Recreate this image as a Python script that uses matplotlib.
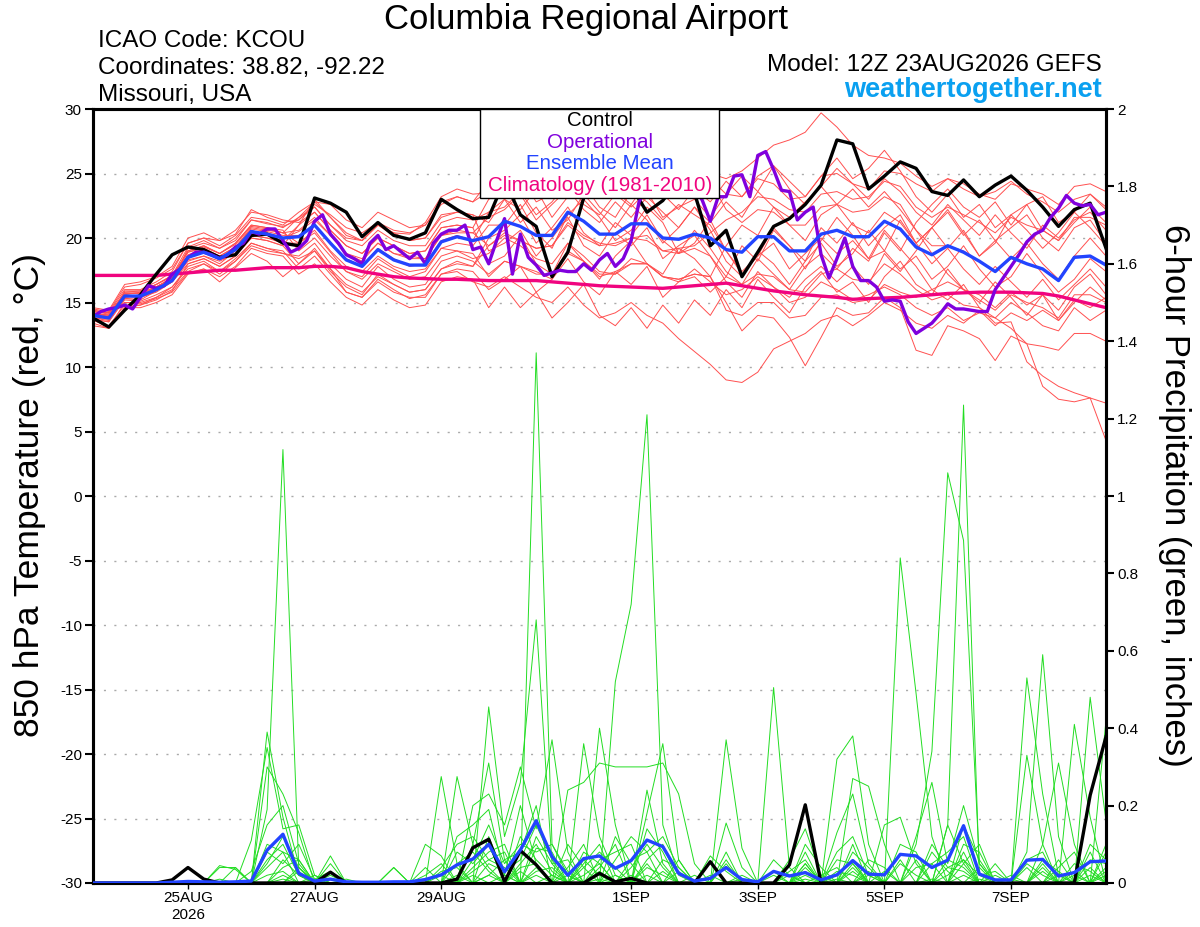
import numpy as np
import matplotlib
matplotlib.use("Agg")
import matplotlib.pyplot as plt
from matplotlib.patches import Rectangle

plt.rcParams['font.family'] = ['Liberation Sans', 'DejaVu Sans']
plt.rcParams['axes.unicode_minus'] = False

# forecast hours after 12Z 23AUG2026 (6-hourly members, 3-hourly operational)
hours = np.arange(0, 385, 6)
hours_op = np.arange(0, 385, 3)

tick_hours = [36, 84, 132, 204, 252, 300, 348]
tick_labels = ["25AUG\n2026", "27AUG", "29AUG", "1SEP", "3SEP", "5SEP", "7SEP"]
precip_ticks = [0, 0.2, 0.4, 0.6, 0.8, 1, 1.2, 1.4, 1.6, 1.8, 2]
precip_tick_labels = ["0", "0.2", "0.4", "0.6", "0.8", "1", "1.2", "1.4", "1.6", "1.8", "2"]

# 850 hPa temperature (C)
control_temp = [13.8, 13.1, 14.4, 15.6, 17.2, 18.7, 19.3, 19.1, 18.5, 18.7, 20.2, 20.3, 19.6,
                19.4, 23.1, 22.7, 22.0, 20.1, 21.2, 20.2, 19.9, 20.4, 23.0, 22.2, 21.5, 21.6,
                24.5, 21.8, 20.9, 17.0, 18.9, 23.1, 24.5, 25.0, 24.0, 22.0, 22.9, 24.5, 23.5,
                19.4, 20.6, 17.0, 18.9, 20.9, 21.5, 22.6, 24.1, 27.6, 27.3, 23.8, 24.8, 25.9,
                25.4, 23.6, 23.3, 24.5, 23.2, 24.1, 24.8, 23.7, 22.4, 20.9, 22.2, 22.7, 19.2]

oper_temp = [13.9, 14.3, 14.5, 14.6, 14.8, 14.5, 15.4, 16.3, 16.1, 16.3, 17.2, 17.6, 18.5,
             18.9, 18.9, 18.7, 18.4, 18.7, 19.3, 19.6, 20.5, 20.3, 20.7, 20.7, 19.8, 18.9,
             19.2, 19.8, 21.3, 21.8, 20.3, 19.6, 18.7, 18.4, 18.0, 19.6, 20.2, 19.1, 19.4,
             18.9, 18.4, 18.9, 18.0, 19.6, 20.3, 20.6, 20.6, 21.0, 19.1, 19.3, 18.0, 19.8,
             21.5, 17.2, 20.3, 18.5, 17.9, 17.1, 17.3, 17.5, 17.4, 17.4, 18.0, 17.5, 18.3,
             18.8, 17.8, 18.4, 19.8, 22.8, 24.0, 24.5, 25.0, 24.5, 24.0, 24.5, 24.0, 22.9,
             21.3, 23.2, 23.2, 24.8, 24.9, 23.2, 26.4, 26.7, 25.3, 23.7, 23.6, 21.4, 22.0,
             22.4, 18.7, 16.9, 18.4, 20.0, 17.8, 16.7, 16.7, 16.2, 15.1, 15.2, 15.1, 13.5,
             12.6, 13.0, 13.4, 14.1, 14.9, 14.5, 14.5, 14.4, 14.3, 14.3, 16.0, 16.9, 17.8,
             18.7, 19.7, 20.3, 20.6, 21.6, 22.3, 23.3, 22.7, 22.5, 22.6, 21.8, 22.0]

mean_temp = [14.0, 13.8, 15.5, 15.5, 16.0, 16.7, 18.5, 18.9, 18.4, 19.1, 20.5, 20.3, 20.0,
             20.1, 21.0, 19.6, 18.3, 17.8, 19.1, 18.3, 17.9, 17.9, 19.7, 20.1, 19.8, 20.1,
             21.3, 20.9, 20.2, 20.2, 22.0, 21.3, 20.3, 20.3, 21.1, 21.1, 20.0, 19.9, 20.3,
             20.0, 19.1, 18.9, 20.1, 20.1, 19.0, 19.0, 20.3, 20.6, 20.1, 20.1, 21.3, 20.7,
             19.3, 18.7, 19.4, 18.9, 18.2, 17.4, 18.5, 18.0, 17.6, 16.7, 18.5, 18.6, 17.9]

clim_temp = [17.1, 17.1, 17.1, 17.1, 17.1, 17.2, 17.3, 17.4, 17.5, 17.5, 17.6, 17.7, 17.7,
             17.7, 17.8, 17.8, 17.7, 17.4, 17.2, 17.0, 16.9, 16.85, 16.8, 16.8, 16.75, 16.7,
             16.7, 16.7, 16.7, 16.6, 16.5, 16.4, 16.3, 16.25, 16.2, 16.15, 16.1, 16.2, 16.3,
             16.4, 16.5, 16.3, 16.1, 15.9, 15.75, 15.6, 15.5, 15.4, 15.25, 15.3, 15.35, 15.4,
             15.5, 15.6, 15.7, 15.75, 15.8, 15.8, 15.8, 15.75, 15.7, 15.5, 15.2, 14.9, 14.6]

t_m01 = [14.2, 13.9, 15.8, 15.9, 16.4, 17.1, 19.3, 19.8, 19.2, 20.0, 21.4, 21.1, 20.9,
         21.4, 22.4, 21.0, 20.0, 19.8, 21.0, 20.4, 20.3, 21.2, 23.2, 23.8, 23.4, 23.5,
         24.5, 24.0, 23.4, 23.6, 25.2, 24.6, 23.6, 23.9, 24.4, 24.8, 23.8, 24.0, 24.9,
         25.0, 24.6, 25.2, 26.2, 27.2, 27.6, 28.2, 29.7, 28.6, 27.2, 26.4, 26.2, 25.8,
         24.8, 24.0, 24.6, 23.8, 23.2, 23.6, 24.4, 23.4, 22.8, 22.0, 23.0, 23.4, 22.4]
t_m02 = [13.7, 13.0, 15.0, 14.9, 15.3, 15.8, 17.3, 17.6, 16.6, 17.7, 18.8, 18.2, 17.0,
         18.0, 19.2, 17.6, 15.8, 15.4, 16.8, 16.0, 15.3, 15.6, 17.2, 17.4, 16.6, 16.2,
         17.0, 16.2, 15.4, 15.0, 16.2, 14.8, 13.8, 14.2, 15.0, 14.0, 13.4, 12.2, 11.2,
         10.2, 9.0, 8.8, 9.6, 11.4, 12.0, 12.6, 13.6, 14.0, 13.2, 14.0, 15.0, 14.4,
         13.4, 13.0, 14.0, 13.4, 14.4, 13.2, 14.2, 13.6, 14.4, 13.6, 15.2, 14.6, 15.4]
t_m03 = [14.0, 14.1, 15.3, 15.2, 15.9, 16.6, 18.2, 18.6, 18.0, 19.0, 20.2, 20.0, 19.6,
         19.6, 20.4, 18.9, 17.4, 17.0, 18.4, 17.6, 17.0, 17.4, 19.2, 19.0, 18.4, 18.8,
         20.0, 19.4, 18.4, 18.0, 19.6, 18.6, 17.4, 17.2, 18.4, 18.0, 17.0, 16.6, 17.6,
         16.6, 15.6, 16.0, 17.0, 16.2, 15.0, 15.4, 16.6, 16.0, 15.2, 15.6, 16.2, 15.6,
         14.6, 14.0, 14.6, 13.6, 14.2, 13.8, 13.0, 11.8, 8.5, 7.5, 7.3, 7.6, 4.3]
t_m04 = [14.3, 14.2, 15.6, 15.4, 16.2, 16.9, 18.6, 19.0, 18.3, 19.2, 20.4, 20.4, 20.0,
         20.5, 21.4, 20.2, 18.8, 18.4, 19.6, 18.8, 18.6, 18.4, 20.2, 20.4, 20.4, 19.4,
         20.4, 19.8, 19.2, 19.4, 21.0, 20.0, 19.4, 19.6, 20.0, 19.8, 19.0, 18.8, 19.2,
         18.6, 17.0, 16.4, 17.2, 17.0, 16.0, 15.8, 17.2, 17.6, 16.8, 16.6, 18.0, 17.2,
         16.0, 15.2, 15.6, 14.8, 14.6, 13.4, 13.5, 10.4, 9.3, 8.5, 8.0, 7.6, 7.2]
t_m05 = [14.5, 14.3, 16.2, 16.4, 16.9, 17.6, 19.6, 20.0, 19.8, 20.3, 22.2, 21.6, 21.2,
         21.4, 22.6, 21.8, 20.8, 20.4, 21.2, 20.6, 20.4, 21.0, 22.8, 23.2, 22.8, 23.6,
         24.6, 24.8, 24.2, 24.0, 25.0, 25.4, 24.6, 24.0, 25.0, 25.4, 24.2, 24.4, 25.2,
         24.6, 23.4, 23.2, 24.6, 24.2, 23.0, 23.2, 24.8, 25.0, 24.2, 23.8, 25.2, 25.0,
         24.2, 23.6, 24.6, 24.2, 23.4, 23.0, 24.2, 23.8, 23.4, 22.6, 24.0, 24.2, 23.6]
t_m06 = [13.8, 13.7, 15.4, 15.6, 16.2, 16.9, 18.9, 19.2, 18.6, 19.3, 20.8, 20.6, 20.4,
         19.6, 20.6, 19.0, 17.8, 17.4, 18.6, 17.8, 17.4, 17.6, 19.2, 19.6, 19.4, 21.0,
         21.0, 22.6, 20.4, 19.2, 21.8, 23.0, 21.6, 19.8, 20.6, 22.4, 21.2, 18.8, 19.6,
         21.4, 19.0, 17.2, 18.6, 20.8, 19.4, 17.6, 19.8, 21.6, 20.2, 18.4, 19.0, 21.4,
         19.6, 20.8, 22.2, 20.4, 18.6, 19.6, 21.8, 20.6, 19.2, 20.4, 22.0, 20.8, 19.4]
t_m07 = [13.7, 13.5, 15.2, 15.1, 15.6, 16.2, 17.8, 18.2, 17.4, 18.4, 19.6, 19.2, 18.8,
         18.6, 19.6, 18.0, 16.8, 16.2, 17.8, 16.8, 16.2, 16.4, 18.2, 18.6, 18.2, 17.2,
         18.2, 17.8, 17.4, 16.8, 18.8, 18.2, 17.0, 17.4, 18.0, 18.0, 17.0, 16.8, 17.2,
         17.0, 14.4, 14.0, 15.0, 15.0, 13.8, 14.0, 15.4, 15.6, 15.0, 15.2, 16.4, 15.8,
         15.4, 16.0, 16.6, 16.0, 15.2, 14.4, 15.6, 15.0, 14.6, 13.8, 15.6, 15.6, 15.0]
t_m08 = [14.4, 14.2, 16.0, 16.0, 16.6, 17.4, 19.6, 20.0, 19.4, 20.2, 21.6, 21.4, 21.0,
         22.0, 22.8, 21.6, 20.4, 19.8, 21.0, 20.4, 19.8, 20.0, 21.8, 22.0, 21.8, 21.2,
         23.0, 21.2, 22.4, 20.6, 21.4, 23.4, 22.0, 20.8, 22.6, 21.4, 19.6, 20.8, 22.4,
         20.6, 18.2, 17.0, 19.0, 18.0, 16.4, 18.2, 19.6, 17.8, 18.8, 20.6, 19.0, 17.6,
         18.6, 16.8, 17.8, 19.4, 17.6, 16.2, 17.0, 18.8, 17.2, 15.8, 16.8, 18.4, 17.4]
t_m09 = [13.6, 13.2, 14.8, 14.8, 15.4, 16.0, 17.4, 18.0, 17.2, 18.2, 19.4, 19.0, 18.8,
         18.4, 19.0, 17.4, 16.2, 15.6, 17.2, 16.4, 15.8, 16.0, 17.6, 18.2, 17.8, 19.4,
         20.2, 19.8, 19.2, 19.4, 21.2, 20.2, 19.6, 19.4, 20.0, 20.2, 19.0, 19.2, 19.4,
         20.4, 21.4, 22.0, 23.2, 23.0, 22.2, 22.0, 23.4, 23.6, 23.0, 23.2, 24.4, 24.0,
         22.4, 21.6, 22.4, 21.8, 21.2, 20.4, 21.6, 21.0, 20.6, 19.8, 21.6, 21.6, 21.0]
t_m10 = [14.0, 13.8, 15.5, 15.4, 15.9, 16.6, 18.0, 18.4, 17.8, 18.6, 20.0, 19.8, 19.4,
         21.0, 22.0, 20.6, 19.4, 18.8, 20.0, 19.4, 18.8, 19.0, 20.8, 21.0, 20.8, 18.0,
         18.6, 20.2, 18.0, 17.2, 19.6, 18.2, 16.8, 18.6, 19.8, 18.0, 17.2, 19.2, 18.4,
         17.0, 19.4, 21.0, 20.2, 22.4, 21.0, 19.8, 21.8, 22.6, 21.0, 20.4, 22.0, 21.2,
         19.6, 18.0, 19.2, 17.6, 16.4, 17.8, 16.6, 15.4, 16.8, 15.2, 16.4, 17.6, 16.2]
t_m11 = [14.3, 14.1, 15.8, 15.8, 16.4, 17.0, 19.0, 19.4, 18.8, 19.6, 21.0, 20.8, 20.4,
         21.6, 22.8, 22.6, 21.4, 20.8, 22.0, 21.4, 20.8, 21.0, 22.6, 23.2, 22.8, 24.4,
         25.0, 25.2, 24.6, 24.4, 25.0, 25.6, 24.6, 24.6, 25.2, 25.4, 24.6, 24.2, 24.6,
         24.4, 22.2, 21.2, 22.2, 22.0, 21.0, 21.0, 22.4, 22.6, 22.0, 22.2, 23.2, 22.6,
         20.6, 19.4, 19.4, 19.0, 18.2, 17.4, 18.4, 18.0, 17.6, 16.8, 18.6, 18.6, 18.0]
t_m12 = [13.4, 13.0, 14.6, 14.6, 15.0, 15.6, 17.2, 17.6, 17.0, 17.8, 19.2, 18.8, 18.6,
         17.2, 18.0, 16.6, 15.4, 14.8, 16.0, 15.2, 14.6, 14.8, 16.6, 17.0, 16.8, 14.6,
         16.2, 14.6, 15.8, 13.8, 15.0, 16.4, 14.0, 13.2, 14.6, 13.0, 14.8, 13.4, 15.2,
         14.0, 16.0, 14.6, 16.8, 15.4, 14.2, 16.2, 17.4, 15.8, 16.6, 15.0, 17.0, 18.2,
         16.4, 15.6, 17.6, 16.0, 15.0, 16.6, 15.4, 14.0, 15.6, 14.4, 16.2, 17.2, 15.6]
t_m13 = [14.1, 14.0, 15.7, 15.7, 16.2, 16.9, 18.7, 19.1, 18.6, 19.3, 20.7, 20.5, 20.2,
         20.2, 21.0, 19.6, 18.4, 17.8, 19.2, 18.4, 17.8, 18.0, 19.8, 20.2, 19.8, 22.0,
         22.4, 23.6, 21.8, 22.8, 24.4, 22.6, 21.8, 23.4, 22.4, 23.6, 21.6, 22.4, 23.0,
         21.6, 23.4, 24.8, 23.6, 25.6, 24.4, 23.2, 24.8, 26.2, 24.6, 25.4, 26.8, 25.2,
         23.2, 22.0, 23.4, 21.6, 22.6, 20.8, 21.8, 22.6, 20.6, 19.8, 21.2, 22.4, 21.2]
t_m14 = [13.9, 13.8, 15.4, 15.6, 16.0, 16.8, 19.0, 19.4, 18.8, 19.6, 21.0, 20.8, 20.6,
         19.0, 20.0, 18.6, 17.4, 16.8, 18.0, 17.4, 16.8, 17.0, 18.6, 19.0, 18.8, 17.0,
         18.2, 17.8, 17.2, 17.2, 19.0, 18.2, 17.2, 17.2, 18.0, 18.0, 17.0, 16.8, 17.2,
         17.0, 15.0, 12.8, 14.0, 13.8, 12.3, 10.1, 12.3, 14.6, 14.0, 14.2, 15.4, 14.6,
         11.3, 10.9, 13.2, 12.8, 12.2, 10.5, 12.4, 11.8, 11.6, 11.3, 12.6, 12.6, 12.0]
t_m15 = [14.6, 14.4, 16.4, 16.6, 17.0, 17.8, 20.0, 20.4, 19.8, 20.6, 22.0, 21.8, 21.4,
         21.2, 22.0, 20.6, 19.4, 18.8, 20.0, 19.4, 18.8, 19.0, 20.8, 21.0, 20.8, 23.0,
         23.6, 24.8, 22.8, 23.4, 24.6, 23.0, 24.2, 23.6, 22.6, 24.4, 23.4, 22.2, 23.8,
         22.8, 24.4, 23.2, 24.8, 25.6, 23.8, 22.6, 24.0, 25.4, 24.2, 23.0, 24.6, 23.6,
         22.0, 21.0, 22.6, 21.4, 20.2, 21.8, 20.4, 19.2, 21.0, 20.0, 21.4, 22.0, 20.6]
t_m16 = [13.2, 13.0, 14.6, 14.8, 15.2, 15.9, 18.0, 18.4, 17.8, 18.6, 20.0, 19.8, 19.4,
         18.0, 19.0, 17.6, 16.4, 15.8, 17.0, 16.4, 15.8, 16.0, 17.6, 18.0, 17.8, 20.0,
         20.6, 21.8, 19.6, 20.8, 22.4, 20.4, 19.4, 21.2, 20.2, 21.8, 19.8, 18.8, 20.6,
         19.2, 17.4, 16.4, 18.4, 17.2, 16.0, 17.8, 18.8, 17.6, 19.2, 18.2, 20.4, 19.0,
         21.2, 22.6, 23.8, 22.4, 21.6, 22.8, 21.0, 22.6, 23.2, 21.2, 22.0, 23.4, 22.2]
t_m17 = [14.2, 14.0, 15.6, 15.8, 16.2, 16.9, 18.3, 18.6, 18.2, 18.8, 20.2, 20.0, 19.8,
         21.0, 23.0, 21.6, 20.2, 19.8, 21.0, 20.2, 19.8, 20.0, 21.6, 22.0, 21.8, 19.0,
         19.6, 20.6, 18.6, 20.0, 21.6, 19.4, 18.6, 20.4, 19.4, 20.8, 18.4, 19.4, 20.2,
         18.6, 16.6, 15.4, 17.4, 16.2, 15.4, 16.8, 17.8, 16.6, 17.8, 16.4, 18.8, 17.4,
         19.0, 20.8, 22.0, 20.2, 21.4, 19.8, 20.8, 21.8, 20.0, 19.0, 20.8, 21.4, 19.6]
t_m18 = [13.8, 13.6, 15.3, 15.4, 15.8, 16.6, 19.2, 19.6, 19.2, 19.8, 21.4, 21.2, 20.8,
         21.6, 22.4, 21.0, 19.8, 19.4, 20.6, 19.8, 19.4, 19.4, 21.2, 21.6, 21.4, 22.0,
         23.0, 22.2, 23.8, 21.6, 23.2, 24.2, 22.4, 21.6, 23.6, 22.8, 21.4, 22.6, 21.8,
         21.0, 19.0, 17.4, 18.6, 19.6, 17.6, 18.8, 20.0, 18.8, 19.8, 18.4, 20.6, 19.2,
         17.8, 16.0, 15.2, 16.4, 14.6, 13.8, 15.0, 14.2, 13.2, 12.8, 14.6, 13.6, 14.4]
t_m19 = [14.4, 14.2, 15.0, 15.0, 15.4, 16.2, 17.6, 18.0, 17.4, 18.2, 19.6, 19.2, 19.0,
         17.6, 18.6, 17.2, 15.8, 15.4, 16.6, 15.8, 15.4, 15.4, 17.2, 17.6, 17.4, 16.0,
         16.8, 17.8, 15.8, 16.8, 18.4, 16.6, 15.6, 17.4, 16.4, 17.8, 15.4, 16.6, 17.0,
         15.8, 17.0, 19.4, 18.2, 20.6, 19.4, 18.2, 20.8, 19.6, 21.2, 19.4, 20.8, 21.8,
         19.6, 20.8, 19.2, 20.6, 18.6, 19.8, 18.4, 19.6, 18.0, 16.8, 18.6, 20.0, 18.6]
t_m20 = [13.7, 13.5, 15.9, 15.9, 16.4, 17.1, 18.9, 19.3, 18.8, 19.5, 20.9, 20.7, 20.4,
         20.6, 21.6, 20.2, 18.8, 18.2, 19.6, 18.8, 18.4, 18.4, 20.2, 20.6, 20.4, 21.6,
         22.2, 23.4, 21.4, 22.6, 23.8, 22.2, 21.2, 22.8, 21.6, 23.2, 22.0, 20.8, 22.4,
         21.2, 22.8, 21.6, 23.6, 22.4, 21.6, 22.8, 24.0, 22.6, 23.8, 22.4, 23.6, 22.2,
         20.6, 18.8, 17.2, 16.0, 15.6, 14.6, 15.8, 14.8, 15.6, 13.6, 15.0, 16.2, 15.2]

# 6-hour precipitation (inches)
control_precip = [0, 0, 0, 0, 0, 0.008, 0.04, 0.01, 0, 0, 0, 0, 0,
                  0, 0, 0.028, 0, 0, 0, 0, 0, 0, 0, 0.01, 0.091, 0.113,
                  0.003, 0.084, 0.047, 0, 0, 0, 0.025, 0.003, 0.012, 0, 0, 0, 0,
                  0.055, 0, 0, 0, 0, 0.047, 0.202, 0, 0, 0, 0, 0, 0,
                  0, 0, 0, 0, 0, 0, 0, 0, 0, 0, 0, 0.227, 0.378]

mean_precip = [0, 0, 0, 0, 0, 0.002, 0.004, 0.003, 0.002, 0.003, 0.005, 0.085, 0.126,
               0.025, 0.005, 0.01, 0.003, 0.002, 0.002, 0.003, 0.003, 0.009, 0.021, 0.047, 0.062, 0.1,
               0.029, 0.085, 0.161, 0.068, 0.02, 0.063, 0.07, 0.038, 0.058, 0.111, 0.094, 0.025, 0.005,
               0.012, 0.04, 0.009, 0.003, 0.03, 0.018, 0.027, 0.008, 0.021, 0.058, 0.023, 0.021, 0.074,
               0.07, 0.04, 0.059, 0.148, 0.023, 0.008, 0.008, 0.059, 0.061, 0.018, 0.027, 0.055, 0.057]

p_m01 = [0, 0, 0, 0, 0, 0, 0, 0, 0.04, 0.04, 0, 0.39, 0.17,
         0.02, 0, 0, 0, 0, 0, 0, 0, 0, 0.275, 0.05, 0, 0.12,
         0.02, 0, 1.37, 0.1, 0.02, 0, 0, 0, 0, 0.24, 0.05, 0, 0,
         0, 0.06, 0, 0, 0.03, 0, 0, 0, 0.13, 0.23, 0.05, 0, 0,
         0, 0, 0.15, 0.05, 0, 0, 0, 0, 0.1, 0.31, 0.1, 0, 0.1]
p_m02 = [0, 0, 0, 0, 0, 0, 0, 0, 0, 0, 0.11, 0.35, 0.14,
         0.15, 0.02, 0, 0, 0, 0, 0, 0, 0, 0, 0.275, 0.1, 0.31,
         0.06, 0.08, 0.2, 0, 0, 0.36, 0.12, 0.02, 0, 0, 0, 0, 0,
         0, 0.37, 0.09, 0, 0, 0, 0.05, 0, 0, 0.1, 0, 0, 0.84,
         0.49, 0.12, 0, 0.08, 0, 0, 0, 0.08, 0.59, 0.12, 0, 0.08, 0]
p_m03 = [0, 0, 0, 0, 0, 0, 0, 0, 0, 0, 0, 0.19, 1.12,
         0.04, 0, 0.07, 0, 0, 0, 0, 0, 0.1, 0.07, 0, 0, 0.455,
         0.12, 0.26, 0.68, 0.05, 0, 0, 0.4, 0.15, 0, 0.18, 0.36, 0.06, 0,
         0, 0, 0, 0, 0, 0.06, 0.14, 0.02, 0, 0, 0, 0, 0,
         0.1, 0.34, 1.06, 0.885, 0.05, 0, 0, 0, 0, 0, 0.41, 0.17, 0]
p_m04 = [0, 0, 0, 0, 0, 0, 0, 0, 0, 0, 0, 0.3, 0.23,
         0.13, 0, 0.05, 0, 0, 0, 0.04, 0, 0, 0, 0, 0.2, 0.23,
         0.15, 0.3, 0.14, 0.37, 0.08, 0, 0, 0.52, 0.72, 1.21, 0.15, 0.02, 0,
         0, 0, 0, 0, 0.505, 0.04, 0, 0, 0.32, 0.38, 0.1, 0, 0,
         0, 0, 0.15, 1.235, 0.02, 0.03, 0, 0, 0, 0, 0, 0.48, 0.16]
p_m05 = [0, 0, 0, 0, 0, 0, 0, 0, 0, 0, 0, 0.1, 0.08,
         0.06, 0, 0.03, 0, 0, 0, 0, 0, 0.04, 0, 0.12, 0.15, 0.19,
         0.02, 0.2, 0.05, 0, 0.24, 0.26, 0.31, 0.3, 0.3, 0.3, 0.31, 0.23, 0.05,
         0, 0.155, 0.04, 0, 0, 0, 0.08, 0, 0, 0.27, 0.25, 0.1, 0,
         0.12, 0.26, 0.05, 0.2, 0.05, 0, 0, 0.53, 0.23, 0.02, 0, 0, 0.42]
p_m06 = [0, 0, 0, 0, 0, 0, 0, 0, 0, 0.04, 0, 0.06, 0.1,
         0.02, 0, 0, 0, 0, 0, 0, 0, 0, 0, 0.08, 0.05, 0.1,
         0, 0.05, 0.1, 0.03, 0, 0.08, 0.05, 0, 0, 0.06, 0.1, 0, 0,
         0, 0, 0, 0, 0, 0, 0.05, 0, 0, 0.04, 0, 0, 0.1,
         0.08, 0, 0.04, 0.06, 0, 0, 0, 0, 0.05, 0, 0, 0.06, 0.05]
p_m07 = [0, 0, 0, 0, 0, 0, 0, 0, 0, 0, 0.03, 0.15, 0.2,
         0.05, 0, 0, 0.01, 0, 0, 0, 0, 0, 0.04, 0.1, 0.12, 0.06,
         0.08, 0, 0.04, 0, 0.04, 0.1, 0, 0.06, 0.12, 0.08, 0, 0, 0,
         0.07, 0.03, 0, 0, 0, 0, 0, 0, 0.06, 0.05, 0, 0.15, 0.17,
         0.05, 0, 0, 0.1, 0.08, 0, 0, 0.33, 0.1, 0, 0, 0, 0]
p_m08 = [0, 0, 0, 0, 0, 0, 0, 0, 0, 0, 0, 0.08, 0.05,
         0.1, 0.01, 0, 0, 0, 0, 0, 0, 0.02, 0.05, 0, 0.06, 0.15,
         0.05, 0.1, 0.08, 0.1, 0.03, 0, 0.06, 0.08, 0.1, 0, 0.06, 0.04, 0,
         0, 0, 0, 0, 0.06, 0.02, 0, 0.02, 0.04, 0, 0.03, 0, 0,
         0, 0.05, 0.08, 0.12, 0, 0.05, 0, 0, 0, 0.04, 0.08, 0, 0.08]
p_m09 = [0, 0, 0, 0, 0, 0, 0, 0, 0, 0, 0, 0, 0.06,
         0.02, 0, 0.02, 0, 0, 0, 0, 0, 0, 0, 0.05, 0.08, 0.03,
         0, 0.12, 0.06, 0.02, 0, 0.05, 0.1, 0, 0.04, 0.1, 0.04, 0, 0,
         0, 0.05, 0, 0, 0, 0, 0.1, 0.04, 0, 0.08, 0.04, 0, 0,
         0.04, 0.05, 0, 0.15, 0.06, 0, 0, 0.06, 0.08, 0, 0, 0.1, 0.06]
p_m10 = [0, 0, 0, 0, 0, 0, 0, 0, 0, 0, 0, 0.04, 0.08,
         0, 0.02, 0, 0, 0, 0, 0, 0, 0, 0.02, 0, 0.04, 0.08,
         0.1, 0, 0.12, 0.05, 0.06, 0, 0.04, 0.1, 0, 0.05, 0, 0.06, 0,
         0, 0, 0.02, 0, 0, 0, 0.04, 0, 0.02, 0.06, 0, 0, 0.05,
         0.02, 0, 0.06, 0.04, 0, 0, 0.02, 0, 0.04, 0, 0.03, 0, 0.04]
p_m11 = [0, 0, 0, 0, 0, 0, 0, 0, 0.01, 0, 0, 0.05, 0.12,
         0.04, 0, 0, 0, 0, 0, 0, 0, 0, 0, 0, 0.03, 0.06,
         0.04, 0, 0.09, 0.08, 0, 0.04, 0.08, 0.04, 0, 0.14, 0.08, 0, 0.02,
         0, 0, 0, 0, 0, 0.03, 0.06, 0, 0, 0, 0.06, 0.04, 0,
         0, 0.08, 0.03, 0, 0.04, 0, 0, 0.04, 0, 0.06, 0, 0.04, 0]
p_m12 = [0, 0, 0, 0, 0, 0, 0, 0, 0, 0, 0, 0, 0.04,
         0.06, 0, 0.01, 0, 0, 0, 0, 0, 0, 0, 0.02, 0, 0.05,
         0.03, 0.06, 0.15, 0.06, 0, 0.06, 0.02, 0, 0.06, 0.08, 0.12, 0.04, 0,
         0, 0.08, 0, 0, 0, 0, 0.03, 0, 0.08, 0.12, 0.02, 0, 0,
         0.06, 0, 0, 0.05, 0.1, 0, 0, 0, 0.06, 0.03, 0, 0, 0.02]
p_m13 = [0, 0, 0, 0, 0, 0, 0, 0, 0, 0, 0, 0.02, 0.03,
         0, 0, 0, 0, 0, 0, 0, 0, 0, 0, 0, 0.1, 0.04,
         0, 0.04, 0.05, 0, 0.1, 0.04, 0, 0.12, 0.05, 0, 0.03, 0, 0,
         0, 0, 0, 0, 0.02, 0, 0, 0, 0, 0.05, 0, 0, 0.06,
         0, 0.1, 0.04, 0.03, 0, 0, 0, 0.05, 0.02, 0, 0.05, 0.03, 0]
p_m14 = [0, 0, 0, 0, 0, 0, 0, 0, 0, 0, 0, 0, 0,
         0.03, 0, 0, 0, 0, 0, 0, 0, 0, 0.03, 0.04, 0, 0.02,
         0.06, 0, 0.03, 0.04, 0, 0.02, 0.05, 0, 0, 0.04, 0.02, 0, 0,
         0, 0, 0, 0, 0, 0, 0.02, 0, 0.03, 0.02, 0, 0, 0,
         0, 0, 0.02, 0.06, 0.02, 0, 0, 0, 0.03, 0, 0, 0, 0.03]
p_m15 = [0, 0, 0, 0, 0, 0, 0, 0, 0.045, 0.035, 0, 0, 0.02,
         0, 0, 0, 0, 0, 0, 0.04, 0, 0, 0, 0, 0, 0.02,
         0, 0, 0.02, 0, 0, 0, 0.03, 0, 0, 0.02, 0, 0, 0,
         0, 0, 0, 0, 0, 0, 0, 0, 0, 0.03, 0, 0, 0,
         0, 0, 0, 0.02, 0, 0, 0, 0, 0, 0, 0, 0.02, 0]
p_m16 = [0, 0, 0, 0, 0, 0, 0, 0, 0, 0, 0, 0, 0,
         0, 0.01, 0.03, 0, 0, 0, 0, 0, 0, 0, 0, 0, 0,
         0, 0.03, 0, 0.02, 0, 0, 0, 0.02, 0, 0, 0, 0.03, 0,
         0, 0, 0, 0, 0, 0.02, 0, 0, 0, 0, 0, 0.03, 0,
         0, 0, 0, 0, 0, 0.02, 0, 0, 0, 0, 0.02, 0, 0]
p_m17 = [0, 0, 0, 0, 0, 0, 0, 0, 0, 0, 0, 0, 0,
         0.04, 0, 0, 0, 0, 0, 0, 0, 0, 0, 0, 0.02, 0,
         0, 0, 0, 0, 0.02, 0, 0, 0, 0.02, 0, 0, 0, 0,
         0, 0, 0.01, 0, 0, 0, 0, 0, 0, 0, 0.02, 0, 0,
         0, 0, 0, 0, 0, 0, 0.01, 0, 0, 0.02, 0, 0, 0]
p_m18 = [0, 0, 0, 0, 0, 0, 0, 0, 0, 0, 0, 0, 0,
         0, 0, 0, 0, 0, 0, 0, 0, 0, 0, 0, 0, 0,
         0.02, 0, 0, 0, 0, 0, 0, 0, 0, 0, 0, 0, 0,
         0.02, 0, 0, 0, 0, 0, 0, 0, 0.01, 0, 0, 0, 0,
         0, 0, 0, 0, 0.01, 0, 0, 0, 0, 0, 0, 0, 0]
p_m19 = [0, 0, 0, 0, 0, 0, 0, 0, 0, 0, 0, 0, 0,
         0, 0, 0, 0, 0, 0, 0, 0, 0, 0, 0, 0, 0,
         0, 0, 0, 0, 0, 0, 0.01, 0, 0, 0, 0, 0, 0,
         0, 0, 0, 0, 0, 0, 0, 0, 0, 0, 0, 0, 0,
         0, 0.01, 0, 0, 0, 0, 0, 0, 0, 0, 0, 0, 0]
p_m20 = [0, 0, 0, 0, 0, 0, 0, 0, 0, 0, 0, 0, 0.01,
         0, 0, 0, 0, 0, 0, 0, 0, 0, 0, 0, 0, 0,
         0, 0, 0, 0, 0, 0, 0, 0, 0, 0, 0, 0, 0,
         0, 0, 0, 0, 0, 0, 0.01, 0, 0, 0, 0, 0, 0,
         0, 0, 0, 0, 0, 0, 0, 0, 0, 0, 0, 0, 0]

temp_members = [t_m01, t_m02, t_m03, t_m04, t_m05, t_m06, t_m07, t_m08, t_m09, t_m10,
                t_m11, t_m12, t_m13, t_m14, t_m15, t_m16, t_m17, t_m18, t_m19, t_m20]
precip_members = [p_m01, p_m02, p_m03, p_m04, p_m05, p_m06, p_m07, p_m08, p_m09, p_m10,
                  p_m11, p_m12, p_m13, p_m14, p_m15, p_m16, p_m17, p_m18, p_m19, p_m20]

W, H = 1200, 927
fig = plt.figure(figsize=(W / 100, H / 100), dpi=100)
ax = fig.add_axes([93 / W, 1 - 883 / H, (1106 - 93) / W, (883 - 109) / H])
ax2 = ax.twinx()

# temperature panel
for member in temp_members:
    ax.plot(hours, member, color='#ff5050', lw=0.7, zorder=2)
ax.plot(hours, clim_temp, color='#f0047f', lw=2.4, zorder=3)
ax.plot(hours, control_temp, color='black', lw=2.4, zorder=4)
ax.plot(hours_op, oper_temp, color='#8000dd', lw=2.4, zorder=5)
ax.plot(hours, mean_temp, color='#2244ff', lw=2.4, zorder=6)

# precipitation on the right axis
for member in precip_members:
    ax2.plot(hours, member, color='#22dd22', lw=0.7, zorder=2)
ax2.plot(hours, control_precip, color='black', lw=2.4, zorder=3)
ax2.plot(hours, mean_precip, color='#2244ff', lw=2.4, zorder=4)

ax.set_xlim(0, 384)
ax.set_ylim(-30, 30)
ax2.set_ylim(0, 2)

ax.set_yticks(range(-30, 31, 5))
ax.set_xticks(tick_hours, tick_labels)
ax2.set_yticks(precip_ticks, precip_tick_labels)
ax.tick_params(axis='y', direction='out', length=6, width=1.5, labelsize=11, pad=2)
ax.tick_params(axis='x', direction='out', length=4, width=1, labelsize=11, pad=2)
ax2.tick_params(axis='y', direction='out', length=6, width=1.5, labelsize=11, pad=2)

for v in range(-25, 30, 5):
    ax.axhline(v, color='#aaaaaa', lw=1, ls=(0, (1.5, 6)), zorder=1)

for a in (ax, ax2):
    for s in a.spines.values():
        s.set_linewidth(2.2)

# legend box at the top of the plot
ax2.add_patch(Rectangle((0.382, 0.885), 0.236, 0.115, transform=ax2.transAxes,
                        facecolor='white', edgecolor='black', lw=1, zorder=10, clip_on=False))
legend_items = [("Control", 'black'), ("Operational", '#8000dd'),
                ("Ensemble Mean", '#2244ff'), ("Climatology (1981-2010)", '#f0047f')]
for k, (txt, col) in enumerate(legend_items):
    ax2.text(0.5005, 0.985 - k * 0.028, txt, color=col, fontsize=14.8, ha='center', va='center',
             transform=ax2.transAxes, zorder=11)

fig.text(30 / W, 1 - 495 / H, "850 hPa Temperature (red, °C)", rotation=90, fontsize=25.5,
         ha='center', va='center')
fig.text(1175 / W, 1 - 495 / H, "6-hour Precipitation (green, inches)", rotation=270, fontsize=25,
         ha='center', va='center')

fig.text(586 / W, 1 - 19 / H, "Columbia Regional Airport", fontsize=25, ha='center', va='center')
fig.text(98 / W, 1 - 41 / H, "ICAO Code: KCOU", fontsize=17.5, va='center')
fig.text(98 / W, 1 - 68 / H, "Coordinates: 38.82, -92.22", fontsize=17.5, va='center')
fig.text(98 / W, 1 - 95 / H, "Missouri, USA", fontsize=17.5, va='center')
fig.text(1102 / W, 1 - 65 / H, "Model: 12Z 23AUG2026 GEFS", fontsize=17.5, ha='right', va='center')
fig.text(1102 / W, 1 - 90 / H, "weathertogether.net", fontsize=19.5, fontweight='bold',
         color='#0aa0f0', ha='right', va='center')

fig.savefig("out.png", dpi=100)
